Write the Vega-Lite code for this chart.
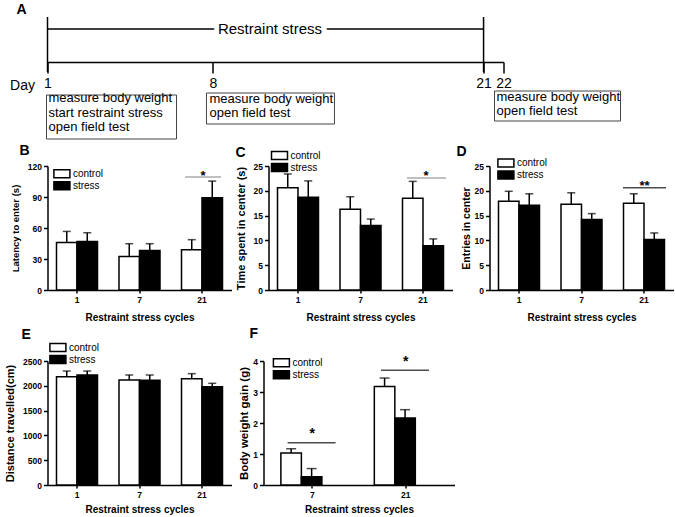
{
  "$schema": "https://vega.github.io/schema/vega-lite/v6.json",
  "background": "white",
  "padding": {"left": 4.5, "top": 3, "right": 2, "bottom": 0},
  "datasets": {
    "phase": [{"day": 1, "end": 21, "label": "Restraint stress"}],
    "days": [
      {"day": 1, "marker": "long"},
      {"day": 8, "marker": "short"},
      {"day": 21, "marker": "long"},
      {"day": 22, "marker": "short"}
    ],
    "events": [
      {"day": 1, "note": "measure body weight\nstart restraint stress\nopen field test"},
      {"day": 8, "note": "measure body weight\nopen field test"},
      {"day": 22, "note": "measure body weight\nopen field test"}
    ],
    "latency": [
      {"cycle": "1", "group": "control", "mean": 46, "upper": 56.7},
      {"cycle": "1", "group": "stress", "mean": 47, "upper": 55.4},
      {"cycle": "7", "group": "control", "mean": 32.4, "upper": 44.8},
      {"cycle": "7", "group": "stress", "mean": 38.3, "upper": 44.8},
      {"cycle": "21", "group": "control", "mean": 38.9, "upper": 48.7},
      {"cycle": "21", "group": "stress", "mean": 89.2, "upper": 105.4}
    ],
    "time": [
      {"cycle": "1", "group": "control", "mean": 20.6, "upper": 23.4},
      {"cycle": "1", "group": "stress", "mean": 18.7, "upper": 22.0},
      {"cycle": "7", "group": "control", "mean": 16.3, "upper": 18.8},
      {"cycle": "7", "group": "stress", "mean": 13.0, "upper": 14.3},
      {"cycle": "21", "group": "control", "mean": 18.5, "upper": 21.9},
      {"cycle": "21", "group": "stress", "mean": 8.9, "upper": 10.3}
    ],
    "entries": [
      {"cycle": "1", "group": "control", "mean": 17.9, "upper": 19.9},
      {"cycle": "1", "group": "stress", "mean": 17.1, "upper": 19.4},
      {"cycle": "7", "group": "control", "mean": 17.3, "upper": 19.6},
      {"cycle": "7", "group": "stress", "mean": 14.2, "upper": 15.4},
      {"cycle": "21", "group": "control", "mean": 17.5, "upper": 19.4},
      {"cycle": "21", "group": "stress", "mean": 10.2, "upper": 11.5}
    ],
    "distance": [
      {"cycle": "1", "group": "control", "mean": 2184, "upper": 2298},
      {"cycle": "1", "group": "stress", "mean": 2218, "upper": 2298},
      {"cycle": "7", "group": "control", "mean": 2117, "upper": 2218},
      {"cycle": "7", "group": "stress", "mean": 2110, "upper": 2218},
      {"cycle": "21", "group": "control", "mean": 2144, "upper": 2245},
      {"cycle": "21", "group": "stress", "mean": 1983, "upper": 2050}
    ],
    "weight": [
      {"cycle": "7", "group": "control", "mean": 1.03, "upper": 1.17},
      {"cycle": "7", "group": "stress", "mean": 0.27, "upper": 0.53},
      {"cycle": "21", "group": "control", "mean": 3.18, "upper": 3.45},
      {"cycle": "21", "group": "stress", "mean": 2.16, "upper": 2.43}
    ],
    "significance": [
      {"panel": "B", "cycle": "21", "level": 109.3, "label": "*"},
      {"panel": "C", "cycle": "21", "level": 22.6, "label": "*"},
      {"panel": "D", "cycle": "21", "level": 20.6, "label": "**"},
      {"panel": "F", "cycle": "7", "level": 1.36, "label": "*"},
      {"panel": "F", "cycle": "21", "level": 3.70, "label": "*"}
    ]
  },
  "spacing": 3,
  "resolve": {"scale": {"fill": "independent"}, "legend": {"fill": "independent"}},
  "vconcat": [
    {
      "title": {"text": "A", "dx": -31, "dy": 5},
      "width": 456,
      "height": 33,
      "encoding": {
        "x": {
          "field": "day", "type": "quantitative",
          "scale": {"type": "pow", "exponent": 0.9, "domain": [1, 22], "nice": false, "zero": false},
          "axis": {
            "values": [1, 8, 21, 22], "format": "d", "tickSize": 11, "labelFontWeight": "normal",
            "labelFontSize": 14, "labelPadding": 3, "labelOverlap": false, "labelFlush": false,
            "title": "Day", "titleFontWeight": "normal", "titleFontSize": 14, "titleAngle": 0,
            "titleAlign": "right", "titleBaseline": "alphabetic", "titleX": -13, "titleY": 27
          }
        }
      },
      "layer": [
        {
          "data": {"name": "phase"},
          "mark": {"type": "rule", "color": "black", "strokeWidth": 1.5},
          "encoding": {
            "x2": {"field": "end"},
            "y": {"datum": 1, "type": "quantitative", "scale": {"domain": [0, 1], "nice": false, "zero": false}, "axis": null}
          }
        },
        {
          "data": {"name": "phase"},
          "mark": {"type": "text", "fontSize": 15, "dx": 222.5, "align": "center", "baseline": "middle", "fill": "white", "stroke": "white", "strokeWidth": 10},
          "encoding": {"y": {"datum": 1, "type": "quantitative"}, "text": {"field": "label"}}
        },
        {
          "data": {"name": "phase"},
          "mark": {"type": "text", "fontSize": 15, "dx": 222.5, "align": "center", "baseline": "middle", "fill": "black"},
          "encoding": {"y": {"datum": 1, "type": "quantitative"}, "text": {"field": "label"}}
        },
        {
          "data": {"name": "days"},
          "transform": [{"filter": "datum.marker == 'long'"}],
          "mark": {"type": "rule", "color": "black", "strokeWidth": 1.5, "yOffset": -12, "y2Offset": 10},
          "encoding": {"y": {"datum": 1, "type": "quantitative"}, "y2": {"datum": 0}}
        },
        {
          "data": {"name": "events"},
          "transform": [{"filter": "datum.day == 1"}],
          "mark": {"type": "rect", "fill": "transparent", "stroke": "#444", "strokeWidth": 1, "xOffset": -1, "x2Offset": 129, "yOffset": 33, "y2Offset": 77},
          "encoding": {"x2": {"field": "day"}, "y": {"datum": 0, "type": "quantitative"}, "y2": {"datum": 0}}
        },
        {
          "data": {"name": "events"},
          "transform": [{"filter": "datum.day == 8"}],
          "mark": {"type": "rect", "fill": "transparent", "stroke": "#444", "strokeWidth": 1, "xOffset": -6.5, "x2Offset": 121.5, "yOffset": 31, "y2Offset": 62},
          "encoding": {"x2": {"field": "day"}, "y": {"datum": 0, "type": "quantitative"}, "y2": {"datum": 0}}
        },
        {
          "data": {"name": "events"},
          "transform": [{"filter": "datum.day == 22"}],
          "mark": {"type": "rect", "fill": "transparent", "stroke": "#444", "strokeWidth": 1, "xOffset": -9, "x2Offset": 117, "yOffset": 29, "y2Offset": 59},
          "encoding": {"x2": {"field": "day"}, "y": {"datum": 0, "type": "quantitative"}, "y2": {"datum": 0}}
        },
        {
          "data": {"name": "events"},
          "transform": [{"filter": "datum.day == 1"}],
          "mark": {"type": "text", "align": "left", "baseline": "top", "fontSize": 13, "lineHeight": 14.5, "lineBreak": "\n", "dx": 1, "dy": 30},
          "encoding": {"y": {"datum": 0, "type": "quantitative"}, "text": {"field": "note"}}
        },
        {
          "data": {"name": "events"},
          "transform": [{"filter": "datum.day == 8"}],
          "mark": {"type": "text", "align": "left", "baseline": "top", "fontSize": 13, "lineHeight": 14, "lineBreak": "\n", "dx": -3.5, "dy": 31},
          "encoding": {"y": {"datum": 0, "type": "quantitative"}, "text": {"field": "note"}}
        },
        {
          "data": {"name": "events"},
          "transform": [{"filter": "datum.day == 22"}],
          "mark": {"type": "text", "align": "left", "baseline": "top", "fontSize": 13, "lineHeight": 14, "lineBreak": "\n", "dx": -7, "dy": 29},
          "encoding": {"y": {"datum": 0, "type": "quantitative"}, "text": {"field": "note"}}
        }
      ]
    },
    {
      "bounds": "flush",
      "spacing": 37,
      "resolve": {"scale": {"fill": "independent"}, "legend": {"fill": "independent"}},
      "hconcat": [
        {
          "title": {"text": "B", "dx": -28, "dy": -0.5},
          "width": 184, "height": 124,
          "encoding": {"x": {"field": "cycle", "type": "ordinal", "scale": {"domain": ["1", "7", "21"], "paddingInner": 0.344, "paddingOuter": 0.144}, "axis": {"title": "Restraint stress cycles", "labelAngle": 0}}},
          "layer": [
            {"data": {"name": "latency"}, "mark": {"type": "rule", "color": "black", "strokeWidth": 1.5},
             "encoding": {"xOffset": {"field": "group", "type": "nominal", "scale": {"paddingInner": 0, "paddingOuter": 0}},
               "y": {"field": "mean", "type": "quantitative", "scale": {"domain": [0, 120], "nice": false}, "axis": {"title": "Latency to enter (s)", "values": [0, 30, 60, 90, 120], "labelOverlap": false, "titleFontSize": 9.5, "titlePadding": 7}},
               "y2": {"field": "upper"}}},
            {"data": {"name": "latency"}, "mark": {"type": "tick", "color": "black", "size": 8, "thickness": 1.5},
             "encoding": {"xOffset": {"field": "group", "type": "nominal"}, "y": {"field": "upper", "type": "quantitative", "axis": {"title": "Latency to enter (s)", "values": [0, 30, 60, 90, 120], "labelOverlap": false, "titleFontSize": 9.5, "titlePadding": 7}}}},
            {"data": {"name": "latency"}, "mark": {"type": "bar", "stroke": "black", "strokeWidth": 1.5},
             "encoding": {"xOffset": {"field": "group", "type": "nominal"}, "y": {"field": "mean", "type": "quantitative", "axis": {"title": "Latency to enter (s)", "values": [0, 30, 60, 90, 120], "labelOverlap": false, "titleFontSize": 9.5, "titlePadding": 7}},
               "fill": {"field": "group", "type": "nominal", "scale": {"domain": ["control", "stress"], "range": ["white", "black"]}, "legend": {"title": null, "orient": "none", "legendX": 9.4, "legendY": 2.8}}}},
            {"data": {"name": "significance"}, "transform": [{"filter": "datum.panel == 'B'"}],
             "mark": {"type": "tick", "color": "#888", "size": 36, "thickness": 1.5, "xOffset": 1},
             "encoding": {"y": {"field": "level", "type": "quantitative", "axis": {"title": "Latency to enter (s)", "values": [0, 30, 60, 90, 120], "labelOverlap": false, "titleFontSize": 9.5, "titlePadding": 7}}}},
            {"data": {"name": "significance"}, "transform": [{"filter": "datum.panel == 'B'"}],
             "mark": {"type": "text", "fontSize": 13, "fontWeight": "bold", "baseline": "alphabetic", "dy": 2.5, "xOffset": 1},
             "encoding": {"y": {"field": "level", "type": "quantitative", "axis": {"title": "Latency to enter (s)", "values": [0, 30, 60, 90, 120], "labelOverlap": false, "titleFontSize": 9.5, "titlePadding": 7}}, "text": {"field": "label"}}}
          ]
        },
        {
          "title": {"text": "C", "dx": -33, "dy": 13},
          "width": 184, "height": 124,
          "encoding": {"x": {"field": "cycle", "type": "ordinal", "scale": {"domain": ["1", "7", "21"], "paddingInner": 0.344, "paddingOuter": 0.144}, "axis": {"title": "Restraint stress cycles", "labelAngle": 0}}},
          "layer": [
            {"data": {"name": "time"}, "mark": {"type": "rule", "color": "black", "strokeWidth": 1.5},
             "encoding": {"xOffset": {"field": "group", "type": "nominal", "scale": {"paddingInner": 0, "paddingOuter": 0}},
               "y": {"field": "mean", "type": "quantitative", "scale": {"domain": [0, 25], "nice": false}, "axis": {"title": "Time spent in center (s)", "values": [0, 5, 10, 15, 20, 25], "labelOverlap": false, "titleFontSize": 11, "titlePadding": 7}},
               "y2": {"field": "upper"}}},
            {"data": {"name": "time"}, "mark": {"type": "tick", "color": "black", "size": 8, "thickness": 1.5},
             "encoding": {"xOffset": {"field": "group", "type": "nominal"}, "y": {"field": "upper", "type": "quantitative", "axis": {"title": "Time spent in center (s)", "values": [0, 5, 10, 15, 20, 25], "labelOverlap": false, "titleFontSize": 11, "titlePadding": 7}}}},
            {"data": {"name": "time"}, "mark": {"type": "bar", "stroke": "black", "strokeWidth": 1.5},
             "encoding": {"xOffset": {"field": "group", "type": "nominal"}, "y": {"field": "mean", "type": "quantitative", "axis": {"title": "Time spent in center (s)", "values": [0, 5, 10, 15, 20, 25], "labelOverlap": false, "titleFontSize": 11, "titlePadding": 7}},
               "fill": {"field": "group", "type": "nominal", "scale": {"domain": ["control", "stress"], "range": ["white", "black"]}, "legend": {"title": null, "orient": "none", "legendX": 6, "legendY": -15.5}}}},
            {"data": {"name": "significance"}, "transform": [{"filter": "datum.panel == 'C'"}],
             "mark": {"type": "tick", "color": "#888", "size": 39, "thickness": 1.5, "xOffset": 3.5},
             "encoding": {"y": {"field": "level", "type": "quantitative", "axis": {"title": "Time spent in center (s)", "values": [0, 5, 10, 15, 20, 25], "labelOverlap": false, "titleFontSize": 11, "titlePadding": 7}}}},
            {"data": {"name": "significance"}, "transform": [{"filter": "datum.panel == 'C'"}],
             "mark": {"type": "text", "fontSize": 13, "fontWeight": "bold", "baseline": "alphabetic", "dy": 2.5, "xOffset": 3},
             "encoding": {"y": {"field": "level", "type": "quantitative", "axis": {"title": "Time spent in center (s)", "values": [0, 5, 10, 15, 20, 25], "labelOverlap": false, "titleFontSize": 11, "titlePadding": 7}}, "text": {"field": "label"}}}
          ]
        },
        {
          "title": {"text": "D", "dx": -33, "dy": 4.5},
          "width": 184, "height": 124,
          "encoding": {"x": {"field": "cycle", "type": "ordinal", "scale": {"domain": ["1", "7", "21"], "paddingInner": 0.344, "paddingOuter": 0.144}, "axis": {"title": "Restraint stress cycles", "labelAngle": 0}}},
          "layer": [
            {"data": {"name": "entries"}, "mark": {"type": "rule", "color": "black", "strokeWidth": 1.5},
             "encoding": {"xOffset": {"field": "group", "type": "nominal", "scale": {"paddingInner": 0, "paddingOuter": 0}},
               "y": {"field": "mean", "type": "quantitative", "scale": {"domain": [0, 25], "nice": false}, "axis": {"title": "Entries in center", "values": [0, 5, 10, 15, 20, 25], "labelOverlap": false, "titleFontSize": 10.5, "titlePadding": 3}},
               "y2": {"field": "upper"}}},
            {"data": {"name": "entries"}, "mark": {"type": "tick", "color": "black", "size": 8, "thickness": 1.5},
             "encoding": {"xOffset": {"field": "group", "type": "nominal"}, "y": {"field": "upper", "type": "quantitative", "axis": {"title": "Entries in center", "values": [0, 5, 10, 15, 20, 25], "labelOverlap": false, "titleFontSize": 10.5, "titlePadding": 3}}}},
            {"data": {"name": "entries"}, "mark": {"type": "bar", "stroke": "black", "strokeWidth": 1.5},
             "encoding": {"xOffset": {"field": "group", "type": "nominal"}, "y": {"field": "mean", "type": "quantitative", "axis": {"title": "Entries in center", "values": [0, 5, 10, 15, 20, 25], "labelOverlap": false, "titleFontSize": 10.5, "titlePadding": 3}},
               "fill": {"field": "group", "type": "nominal", "scale": {"domain": ["control", "stress"], "range": ["white", "black"]}, "legend": {"title": null, "orient": "none", "legendX": 11.4, "legendY": -8}}}},
            {"data": {"name": "significance"}, "transform": [{"filter": "datum.panel == 'D'"}],
             "mark": {"type": "tick", "color": "black", "size": 43, "thickness": 1.5, "xOffset": 0.5},
             "encoding": {"y": {"field": "level", "type": "quantitative", "axis": {"title": "Entries in center", "values": [0, 5, 10, 15, 20, 25], "labelOverlap": false, "titleFontSize": 10.5, "titlePadding": 3}}}},
            {"data": {"name": "significance"}, "transform": [{"filter": "datum.panel == 'D'"}],
             "mark": {"type": "text", "fontSize": 13, "fontWeight": "bold", "baseline": "alphabetic", "dy": 2.5, "xOffset": 0.5},
             "encoding": {"y": {"field": "level", "type": "quantitative", "axis": {"title": "Entries in center", "values": [0, 5, 10, 15, 20, 25], "labelOverlap": false, "titleFontSize": 10.5, "titlePadding": 3}}, "text": {"field": "label"}}}
          ]
        }
      ]
    },
    {
      "bounds": "flush",
      "spacing": 32,
      "resolve": {"scale": {"fill": "independent"}, "legend": {"fill": "independent"}},
      "hconcat": [
        {
          "title": {"text": "E", "dx": -26, "dy": 3.5},
          "width": 184, "height": 124,
          "encoding": {"x": {"field": "cycle", "type": "ordinal", "scale": {"domain": ["1", "7", "21"], "paddingInner": 0.344, "paddingOuter": 0.144}, "axis": {"title": "Restraint stress cycles", "labelAngle": 0, "titlePadding": 6}}},
          "layer": [
            {"data": {"name": "distance"}, "mark": {"type": "rule", "color": "black", "strokeWidth": 1.5},
             "encoding": {"xOffset": {"field": "group", "type": "nominal", "scale": {"paddingInner": 0, "paddingOuter": 0}},
               "y": {"field": "mean", "type": "quantitative", "scale": {"domain": [0, 2500], "nice": false}, "axis": {"title": "Distance travelled(cm)", "values": [0, 500, 1000, 1500, 2000, 2500], "format": "d", "labelOverlap": false, "titleFontSize": 11, "titlePadding": 7}},
               "y2": {"field": "upper"}}},
            {"data": {"name": "distance"}, "mark": {"type": "tick", "color": "black", "size": 8, "thickness": 1.5},
             "encoding": {"xOffset": {"field": "group", "type": "nominal"}, "y": {"field": "upper", "type": "quantitative", "axis": {"title": "Distance travelled(cm)", "values": [0, 500, 1000, 1500, 2000, 2500], "format": "d", "labelOverlap": false, "titleFontSize": 11, "titlePadding": 7}}}},
            {"data": {"name": "distance"}, "mark": {"type": "bar", "stroke": "black", "strokeWidth": 1.5},
             "encoding": {"xOffset": {"field": "group", "type": "nominal"}, "y": {"field": "mean", "type": "quantitative", "axis": {"title": "Distance travelled(cm)", "values": [0, 500, 1000, 1500, 2000, 2500], "format": "d", "labelOverlap": false, "titleFontSize": 11, "titlePadding": 7}},
               "fill": {"field": "group", "type": "nominal", "scale": {"domain": ["control", "stress"], "range": ["white", "black"]}, "legend": {"title": null, "orient": "none", "legendX": 5.4, "legendY": -18.5}}}}
          ]
        },
        {
          "title": {"text": "F", "dx": -14, "dy": -10.3},
          "width": 191, "height": 124,
          "encoding": {"x": {"field": "cycle", "type": "ordinal", "scale": {"domain": ["7", "21"], "paddingInner": 0.328, "paddingOuter": 0.186}, "axis": {"title": "Restraint stress cycles", "labelAngle": 0, "titlePadding": 6}}},
          "layer": [
            {"data": {"name": "weight"}, "mark": {"type": "rule", "color": "black", "strokeWidth": 1.5},
             "encoding": {"xOffset": {"field": "group", "type": "nominal", "scale": {"paddingInner": 0, "paddingOuter": 0}},
               "y": {"field": "mean", "type": "quantitative", "scale": {"domain": [0, 4], "nice": false}, "axis": {"title": "Body weight gain (g)", "values": [0, 1, 2, 3, 4], "labelOverlap": false, "titleFontSize": 11.5, "titlePadding": 3}},
               "y2": {"field": "upper"}}},
            {"data": {"name": "weight"}, "mark": {"type": "tick", "color": "black", "size": 10, "thickness": 1.5},
             "encoding": {"xOffset": {"field": "group", "type": "nominal"}, "y": {"field": "upper", "type": "quantitative", "axis": {"title": "Body weight gain (g)", "values": [0, 1, 2, 3, 4], "labelOverlap": false, "titleFontSize": 11.5, "titlePadding": 3}}}},
            {"data": {"name": "weight"}, "mark": {"type": "bar", "stroke": "black", "strokeWidth": 1.5},
             "encoding": {"xOffset": {"field": "group", "type": "nominal"}, "y": {"field": "mean", "type": "quantitative", "axis": {"title": "Body weight gain (g)", "values": [0, 1, 2, 3, 4], "labelOverlap": false, "titleFontSize": 11.5, "titlePadding": 3}},
               "fill": {"field": "group", "type": "nominal", "scale": {"domain": ["control", "stress"], "range": ["white", "black"]}, "legend": {"title": null, "orient": "none", "legendX": 12.9, "legendY": -3.2}}}},
            {"data": {"name": "significance"}, "transform": [{"filter": "datum.panel == 'F'"}],
             "mark": {"type": "tick", "color": "black", "size": 48, "thickness": 1.5, "xOffset": -0.7},
             "encoding": {"y": {"field": "level", "type": "quantitative", "axis": {"title": "Body weight gain (g)", "values": [0, 1, 2, 3, 4], "labelOverlap": false, "titleFontSize": 11.5, "titlePadding": 3}}}},
            {"data": {"name": "significance"}, "transform": [{"filter": "datum.panel == 'F'"}],
             "mark": {"type": "text", "fontSize": 14, "fontWeight": "bold", "baseline": "alphabetic", "dy": -4.5, "xOffset": 0},
             "encoding": {"y": {"field": "level", "type": "quantitative", "axis": {"title": "Body weight gain (g)", "values": [0, 1, 2, 3, 4], "labelOverlap": false, "titleFontSize": 11.5, "titlePadding": 3}}, "text": {"field": "label"}}}
          ]
        }
      ]
    }
  ],
  "config": {
    "font": "Liberation Sans",
    "view": {"stroke": null},
    "axis": {
      "domainColor": "black", "domainWidth": 1.5, "tickColor": "black", "tickWidth": 1.5, "tickSize": 4,
      "labelColor": "black", "labelFontWeight": "bold", "labelFontSize": 8.5, "labelPadding": 2, "labelOverlap": false,
      "titleColor": "black", "titleFontWeight": "bold", "titleFontSize": 9, "titlePadding": 4, "grid": false
    },
    "axisX": {"tickSize": 3, "titlePadding": 9, "titleFontSize": 10},
    "axisY": {"labelOverlap": false},
    "legend": {
      "symbolType": "M-2,-1H2V1H-2Z", "symbolSize": 64, "symbolStrokeColor": "black", "symbolStrokeWidth": 1.5,
      "labelFontSize": 10, "labelColor": "black", "labelFontWeight": "normal", "padding": 0, "rowPadding": -3, "labelOffset": 6
    },
    "title": {"fontSize": 14, "fontWeight": "bold", "anchor": "start", "frame": "group", "color": "black", "baseline": "alphabetic", "offset": 0}
  }
}
